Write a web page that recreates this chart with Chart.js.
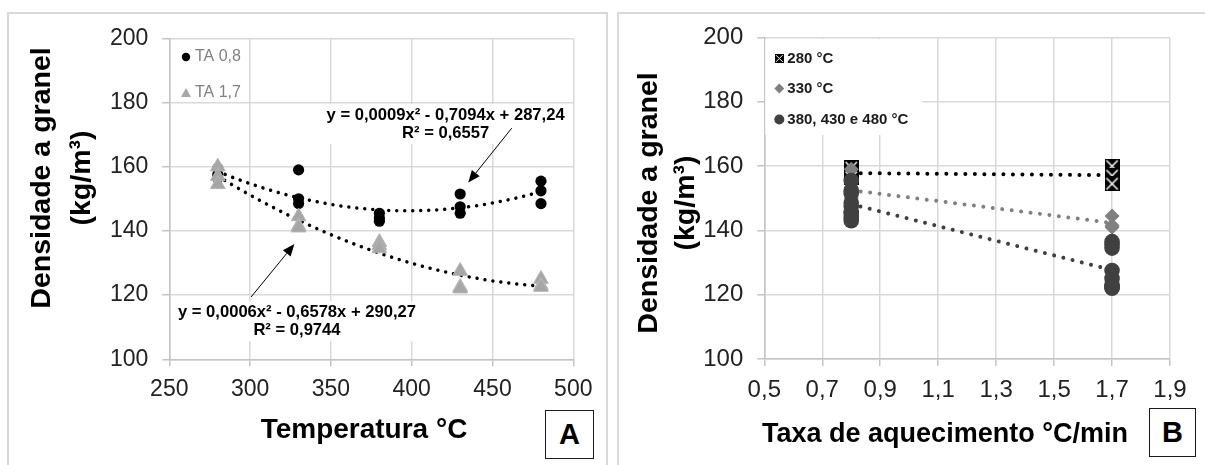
<!DOCTYPE html>
<html lang="pt">
<head>
<meta charset="utf-8">
<title>Densidade a granel</title>
<script src="https://cdn.jsdelivr.net/npm/chart.js@4.4.1/dist/chart.umd.min.js"></script>
<style>
  html, body { margin: 0; padding: 0; background: #fff; }
  body { position: relative; width: 1205px; height: 465px; overflow: hidden; font-family: "Liberation Sans", Arial, sans-serif; }
  .frame { position: absolute; box-sizing: border-box; border: 2px solid #d9d9d9; }
  #frameA { left: 7px; top: 12px; width: 601px; height: 470px; }
  #frameB { left: 617px; top: 12px; width: 600px; height: 470px; }
  canvas { position: absolute; top: 0; }
  #chartA { left: 0; }
  #chartB { left: 605px; }
  .tag { position: absolute; box-sizing: border-box; border: 1.5px solid #1a1a1a; background: #fff;
         font-weight: bold; font-size: 29px; display: flex; align-items: center; justify-content: center; }
  #tagA { left: 545px; top: 410px; width: 49px; height: 49px; }
  #tagB { left: 1149px; top: 408px; width: 47px; height: 49px; }
</style>
</head>
<body>
<div class="frame" id="frameA"></div>
<div class="frame" id="frameB"></div>
<canvas id="chartA" width="605" height="465"></canvas>
<canvas id="chartB" width="600" height="465"></canvas>
<div class="tag" id="tagA">A</div>
<div class="tag" id="tagB">B</div>
<script>
const FONT = "'Liberation Sans', Arial, sans-serif";
Chart.defaults.font.family = FONT;

// ---- painel A: densidade x temperatura ----
const temperaturas = [280, 330, 380, 430, 480];
const ta08 = [
  [159.5, 157.5, 156.5],
  [159, 150, 148.5],
  [145.5, 144, 143],
  [151.5, 147.5, 145.5],
  [155.5, 152.5, 148.5],
];
const ta17 = [
  [160, 157, 154.5],
  [144.5, 141.5, 141],
  [136.5, 135.5, 134.5],
  [127.5, 122.5, 122],
  [125, 123, 122.5],
];
const ticksTemp = [250, 300, 350, 400, 450, 500];
const ticksDens = [100, 120, 140, 160, 180, 200];
const eqTA08 = ['y = 0,0009x² - 0,7094x + 287,24', 'R² = 0,6557'];
const eqTA17 = ['y = 0,0006x² - 0,6578x + 290,27', 'R² = 0,9744'];

// ---- painel B: densidade x taxa de aquecimento ----
const taxas = [0.8, 1.7];
const d280 = [ta08[0], ta17[0]];
const d330 = [ta08[1], ta17[1]];
const dAltas = [ta08.slice(2).flat(), ta17.slice(2).flat()];
const ticksTaxa = [0.5, 0.7, 0.9, 1.1, 1.3, 1.5, 1.7, 1.9];
const legendaB = ['280 °C', '330 °C', '380, 430 e 480 °C'];

const pontos = (xs, grupos) => xs.flatMap((x, i) => grupos[i].map(y => ({x, y})));

// linha de tendencia polinomial (ordem 2), minimos quadrados
function ajustePoly2(pts) {
  const x0 = 380, S = [0, 0, 0, 0, 0], T = [0, 0, 0];
  pts.forEach(p => {
    const u = p.x - x0;
    let q = 1;
    for (let k = 0; k < 5; k++) { S[k] += q; q *= u; }
    T[0] += p.y; T[1] += p.y * u; T[2] += p.y * u * u;
  });
  const M = [[S[0], S[1], S[2], T[0]], [S[1], S[2], S[3], T[1]], [S[2], S[3], S[4], T[2]]];
  for (let i = 0; i < 3; i++) {
    for (let j = i + 1; j < 3; j++) {
      const f = M[j][i] / M[i][i];
      for (let k = i; k < 4; k++) M[j][k] -= f * M[i][k];
    }
  }
  const c = [0, 0, 0];
  for (let i = 2; i >= 0; i--) {
    let s = M[i][3];
    for (let k = i + 1; k < 3; k++) s -= M[i][k] * c[k];
    c[i] = s / M[i][i];
  }
  return x => c[0] + c[1] * (x - x0) + c[2] * (x - x0) * (x - x0);
}

// linha de tendencia linear
function ajusteLinear(pts) {
  const n = pts.length;
  const mx = pts.reduce((s, p) => s + p.x, 0) / n;
  const my = pts.reduce((s, p) => s + p.y, 0) / n;
  let sxy = 0, sxx = 0;
  pts.forEach(p => { sxy += (p.x - mx) * (p.y - my); sxx += (p.x - mx) * (p.x - mx); });
  const b = sxy / sxx;
  return x => my + b * (x - mx);
}

function curva(f, x1, x2, passo) {
  const out = [];
  for (let x = x1; x <= x2 + 1e-9; x += passo) out.push({x, y: f(x)});
  return out;
}

function eixo(ticks, tamanho, padding, fmt) {
  return {
    type: 'linear',
    min: ticks[0],
    max: ticks[ticks.length - 1],
    afterBuildTicks: s => { s.ticks = ticks.map(v => ({value: v})); },
    grid: { color: '#d9d9d9', lineWidth: 1.5, tickLength: 7, tickColor: '#c4c4c4' },
    border: { color: '#c4c4c4', width: 1.5 },
    ticks: { font: { size: tamanho }, color: '#222', padding: padding, autoSkip: false, maxRotation: 0, callback: fmt },
  };
}

function marcaCaixa(s) {
  const c = document.createElement('canvas');
  c.width = s; c.height = s;
  const g = c.getContext('2d');
  g.fillStyle = '#000';
  g.fillRect(0, 0, s, s);
  g.strokeStyle = '#fff';
  g.lineWidth = Math.max(1, s / 10);
  const m = s * 0.12;
  g.beginPath();
  g.moveTo(m, m); g.lineTo(s - m, s - m);
  g.moveTo(s - m, m); g.lineTo(m, s - m);
  g.stroke();
  return c;
}

function tituloY(ctx, x, y, linhas, passo) {
  ctx.save();
  ctx.translate(x, y);
  ctx.rotate(-Math.PI / 2);
  ctx.font = 'bold 28.5px ' + FONT;
  ctx.fillStyle = '#000';
  ctx.textAlign = 'center';
  ctx.textBaseline = 'middle';
  linhas.forEach((t, i) => ctx.fillText(t, 0, i * passo));
  ctx.restore();
}

function seta(ctx, x1, y1, x2, y2) {
  const a = Math.atan2(y2 - y1, x2 - x1), L = 12, W = 5;
  const bx = x2 - L * Math.cos(a), by = y2 - L * Math.sin(a);
  ctx.save();
  ctx.strokeStyle = '#000';
  ctx.fillStyle = '#000';
  ctx.lineWidth = 1;
  ctx.beginPath(); ctx.moveTo(x1, y1); ctx.lineTo(bx, by); ctx.stroke();
  ctx.beginPath();
  ctx.moveTo(x2, y2);
  ctx.lineTo(bx + W * Math.sin(a), by - W * Math.cos(a));
  ctx.lineTo(bx - W * Math.sin(a), by + W * Math.cos(a));
  ctx.closePath(); ctx.fill();
  ctx.restore();
}

// coloca a area do grafico onde ela esta na figura
// (topo e direita: o padding cobre o excesso dos rotulos; esquerda e base: somam com os eixos)
function fixarArea(chart, alvo) {
  for (let i = 0; i < 3; i++) {
    const a = chart.chartArea, p = chart.config.options.layout.padding;
    chart.config.options.layout.padding = {
      left: p.left + alvo.left - a.left,
      top: alvo.top,
      right: chart.width - alvo.right,
      bottom: p.bottom + a.bottom - alvo.bottom,
    };
    chart.update();
  }
}

// ---------- grafico A ----------
const ptsA08 = pontos(temperaturas, ta08);
const ptsA17 = pontos(temperaturas, ta17);
const tendA08 = curva(ajustePoly2(ptsA08), temperaturas[0], temperaturas[temperaturas.length - 1], 4);
const tendA17 = curva(ajustePoly2(ptsA17), temperaturas[0], temperaturas[temperaturas.length - 1], 4);

const notasA = [
  { x: 421, y: 176.1, linhas: eqTA08 },
  { x: 329, y: 114.7, linhas: eqTA17 },
];
const setasA = [
  { de: [461.9, 172], para: [435, 155.1] },
  { de: [300.6, 119.4], para: [327.4, 135.9] },
];

const extrasA = {
  id: 'extrasA',
  beforeDatasetsDraw(chart) {
    const {ctx, scales: {x, y}} = chart;
    ctx.save();
    ctx.font = 'bold 16.6px ' + FONT;
    notasA.forEach(n => {
      const px = x.getPixelForValue(n.x), py = y.getPixelForValue(n.y);
      const w = Math.max(...n.linhas.map(t => ctx.measureText(t).width)) + 6;
      ctx.fillStyle = '#fff';
      ctx.fillRect(px - w / 2, py - 11, w, 18 * (n.linhas.length - 1) + 22);
      ctx.fillStyle = '#000';
      ctx.textAlign = 'center';
      ctx.textBaseline = 'middle';
      n.linhas.forEach((t, i) => ctx.fillText(t, px, py + 18 * i));
    });
    ctx.restore();
  },
  afterDraw(chart) {
    const {ctx, scales: {x, y}} = chart;
    setasA.forEach(s => seta(ctx, x.getPixelForValue(s.de[0]), y.getPixelForValue(s.de[1]),
                                  x.getPixelForValue(s.para[0]), y.getPixelForValue(s.para[1])));
    tituloY(ctx, 42, 178, ['Densidade a granel', '(kg/m³)'], 40);
    ctx.save();
    ctx.font = 'bold 28px ' + FONT;
    ctx.fillStyle = '#000';
    ctx.textAlign = 'center';
    ctx.textBaseline = 'middle';
    ctx.fillText('Temperatura °C', 364, 430);
    // legenda
    ctx.font = '16px ' + FONT;
    ctx.textAlign = 'left';
    ctx.fillStyle = '#000';
    ctx.beginPath(); ctx.arc(186, 57, 4.2, 0, Math.PI * 2); ctx.fill();
    ctx.fillStyle = '#a6a6a6';
    ctx.beginPath(); ctx.moveTo(186, 88); ctx.lineTo(191, 97); ctx.lineTo(181, 97); ctx.closePath(); ctx.fill();
    ctx.fillStyle = '#808080';
    ctx.fillText('TA 0,8', 195, 57);
    ctx.fillText('TA 1,7', 195, 93);
    ctx.restore();
  },
};

const chartA = new Chart(document.getElementById('chartA'), {
  type: 'scatter',
  data: {
    datasets: [
      { label: 'TA 1,7', data: ptsA17, pointStyle: 'triangle', pointRadius: 8.5, backgroundColor: '#a6a6a6',
        borderColor: '#b4b4b4', borderWidth: 1, order: 1 },
      { label: 'TA 0,8', data: ptsA08, pointStyle: 'circle', pointRadius: 5.6, backgroundColor: '#000',
        borderColor: '#000', borderWidth: 0, order: 2 },
      { data: tendA08, showLine: true, pointRadius: 0, borderColor: '#000', borderWidth: 3.5,
        borderDash: [0.01, 8], borderCapStyle: 'round', order: 10 },
      { data: tendA17, showLine: true, pointRadius: 0, borderColor: '#000', borderWidth: 3.5,
        borderDash: [0.01, 8], borderCapStyle: 'round', order: 11 },
    ],
  },
  options: {
    responsive: false,
    animation: false,
    events: [],
    layout: { padding: { left: 0, top: 0, right: 0, bottom: 0 } },
    plugins: { legend: { display: false }, tooltip: { enabled: false } },
    scales: {
      x: eixo(ticksTemp, 23, 10, v => String(v)),
      y: eixo(ticksDens, 23, 14, v => String(v)),
    },
  },
  plugins: [extrasA],
});
fixarArea(chartA, { left: 169.3, top: 38.3, right: 573.3, bottom: 359.3 });

// ---------- grafico B ----------
const ptsB280 = pontos(taxas, d280);
const ptsB330 = pontos(taxas, d330);
const ptsBAlt = pontos(taxas, dAltas);
const tendB = pts => curva(ajusteLinear(pts), taxas[0], taxas[1], taxas[1] - taxas[0]);
const caixa = marcaCaixa(15);
const caixaLeg = marcaCaixa(9);

const extrasB = {
  id: 'extrasB',
  beforeDatasetsDraw(chart) {
    const {ctx, chartArea: a} = chart;
    ctx.save();
    ctx.fillStyle = '#fff';
    ctx.fillRect(a.left + 1, a.top + 1.5, 157, 96);
    ctx.font = 'bold 15px ' + FONT;
    ctx.textAlign = 'left';
    ctx.textBaseline = 'middle';
    const mx = a.left + 15, tx = a.left + 23, ys = [a.top + 21, a.top + 51, a.top + 82];
    ctx.drawImage(caixaLeg, mx - 4.5, ys[0] - 4.5);
    ctx.fillStyle = '#808080';
    ctx.beginPath(); ctx.moveTo(mx, ys[1] - 5); ctx.lineTo(mx + 5, ys[1]); ctx.lineTo(mx, ys[1] + 5); ctx.lineTo(mx - 5, ys[1]); ctx.closePath(); ctx.fill();
    ctx.fillStyle = '#404040';
    ctx.beginPath(); ctx.arc(mx, ys[2], 5, 0, Math.PI * 2); ctx.fill();
    ctx.fillStyle = '#1a1a1a';
    legendaB.forEach((t, i) => ctx.fillText(t, tx, ys[i]));
    ctx.restore();
  },
  afterDraw(chart) {
    const {ctx} = chart;
    tituloY(ctx, 44, 203, ['Densidade a granel', '(kg/m³)'], 37);
    ctx.save();
    ctx.font = 'bold 27px ' + FONT;
    ctx.fillStyle = '#000';
    ctx.textAlign = 'center';
    ctx.textBaseline = 'middle';
    ctx.fillText('Taxa de aquecimento °C/min', 340, 435);
    ctx.restore();
  },
};

const tendLinha = (pts, cor) => ({ data: tendB(pts), showLine: true, pointRadius: 0, borderColor: cor,
  borderWidth: 4, borderDash: [0.01, 9.5], borderCapStyle: 'round', order: 10 });

const chartB = new Chart(document.getElementById('chartB'), {
  type: 'scatter',
  data: {
    datasets: [
      { label: legendaB[2], data: ptsBAlt, pointStyle: 'circle', pointRadius: 7.8, backgroundColor: '#404040',
        borderWidth: 0, order: 1 },
      { label: legendaB[1], data: ptsB330, pointStyle: 'rectRot', pointRadius: 7.5, backgroundColor: '#808080',
        borderWidth: 0, order: 2 },
      { label: legendaB[0], data: ptsB280, pointStyle: caixa, order: 3 },
      tendLinha(ptsB280, '#000'),
      tendLinha(ptsB330, '#808080'),
      tendLinha(ptsBAlt, '#404040'),
    ],
  },
  options: {
    responsive: false,
    animation: false,
    events: [],
    layout: { padding: { left: 0, top: 0, right: 0, bottom: 0 } },
    plugins: { legend: { display: false }, tooltip: { enabled: false } },
    scales: {
      x: eixo(ticksTaxa, 24, 10, v => v.toFixed(1).replace('.', ',')),
      y: eixo(ticksDens, 24, 14, v => String(v)),
    },
  },
  plugins: [extrasB],
});
fixarArea(chartB, { left: 159.3, top: 37.5, right: 565, bottom: 359 });
</script>
</body>
</html>
